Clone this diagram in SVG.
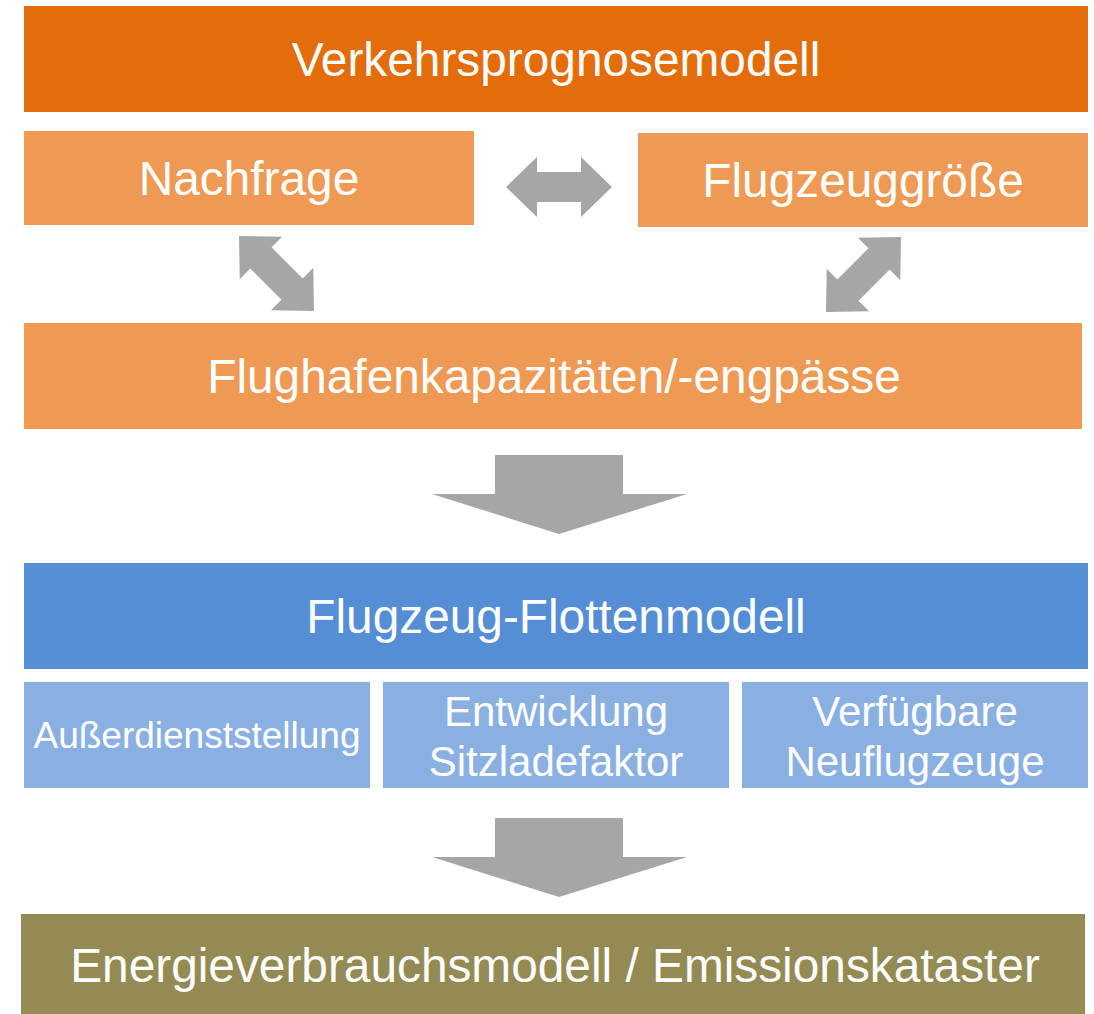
<svg xmlns="http://www.w3.org/2000/svg" width="1094" height="1014" viewBox="0 0 1094 1014">
<defs>
<style>
.t{font-family:"Liberation Sans",Arial,sans-serif;fill:#ffffff;text-anchor:middle}
.big{font-size:47.8px}
.mid{font-size:42px}
.sm{font-size:37px}
.arr{fill:#A6A6A6}
</style>
<polygon id="dbl" points="-53,0 -22,-30 -22,-15 22,-15 22,-30 53,0 22,30 22,15 -22,15 -22,30"/>
<polygon id="down" points="495,0 623,0 623,39 687,39 559,79 432,39 495,39"/>
</defs>
<rect width="1094" height="1014" fill="#ffffff"/>
<g id="connectors" class="arr">
<use href="#dbl" transform="translate(559,187)"/>
<use href="#dbl" transform="translate(276.5,273.5) rotate(45)"/>
<use href="#dbl" transform="translate(863.5,274.5) rotate(-45)"/>
<use href="#down" transform="translate(0,455)"/>
<use href="#down" transform="translate(0,818)"/>
</g>
<g id="verkehrsprognosemodell">
<rect x="24" y="6" width="1064" height="106" fill="#E46C0A"/>
<text class="t big" x="556" y="76">Verkehrsprognosemodell</text>
</g>
<g id="nachfrage">
<rect x="24" y="131" width="450" height="94" fill="#EE9A55"/>
<text class="t big" x="249" y="195">Nachfrage</text>
</g>
<g id="flugzeuggroesse">
<rect x="638" y="133" width="450" height="94" fill="#EE9A55"/>
<text class="t big" x="863" y="197">Flugzeuggröße</text>
</g>
<g id="flughafen">
<rect x="24" y="323" width="1058" height="106" fill="#EE9A55"/>
<text class="t big" x="554" y="393">Flughafenkapazitäten/-engpässe</text>
</g>
<g id="flottenmodell">
<rect x="24" y="563" width="1064" height="106" fill="#558ED5"/>
<text class="t big" x="556" y="633">Flugzeug-Flottenmodell</text>
</g>
<g id="ausserdienststellung">
<rect x="24" y="682" width="346" height="106" fill="#8AB0E2"/>
<text class="t sm" x="197" y="748">Außerdienststellung</text>
</g>
<g id="sitzladefaktor">
<rect x="383" y="682" width="346" height="106" fill="#8AB0E2"/>
<text class="t mid" x="556" y="726">Entwicklung</text>
<text class="t mid" x="556" y="776">Sitzladefaktor</text>
</g>
<g id="neuflugzeuge">
<rect x="742" y="682" width="346" height="106" fill="#8AB0E2"/>
<text class="t mid" x="915" y="726">Verfügbare</text>
<text class="t mid" x="915" y="776">Neuflugzeuge</text>
</g>
<g id="energieverbrauchsmodell">
<rect x="21" y="914" width="1064" height="100" fill="#948A54"/>
<text class="t big" x="555" y="982">Energieverbrauchsmodell / Emissionskataster</text>
</g>
</svg>
